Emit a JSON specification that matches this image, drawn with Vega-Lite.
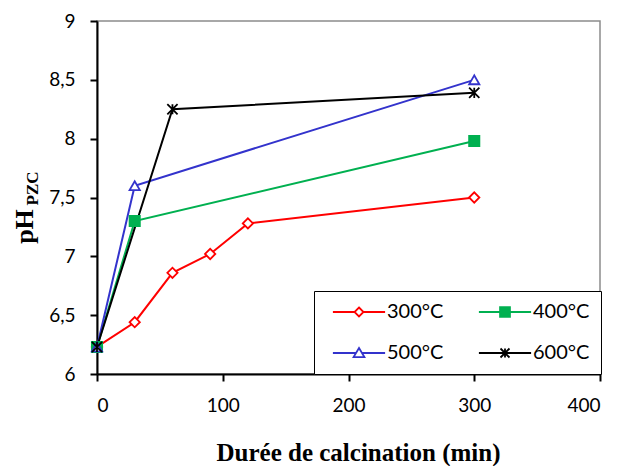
{
  "$schema": "https://vega.github.io/schema/vega-lite/v6.json",
  "width": 503,
  "height": 353,
  "autosize": {"type": "none"},
  "padding": {"left": 97, "top": 21, "right": 21, "bottom": 92},
  "background": "white",
  "config": {
    "view": {"stroke": "#8c8c8c", "strokeWidth": 1.5},
    "axis": {
      "grid": false,
      "domainColor": "black",
      "domainWidth": 2,
      "tickColor": "black",
      "tickWidth": 2,
      "tickSize": 7,
      "labelFont": "Lato",
      "labelFontSize": 19,
      "labelColor": "black",
      "titleFont": "Liberation Serif",
      "titleFontWeight": "bold",
      "titleColor": "black"
    }
  },
  "data": {
    "values": [
      {"t": 0, "ph": 6.23, "serie": "300°C"},
      {"t": 30, "ph": 6.44, "serie": "300°C"},
      {"t": 60, "ph": 6.86, "serie": "300°C"},
      {"t": 90, "ph": 7.02, "serie": "300°C"},
      {"t": 120, "ph": 7.28, "serie": "300°C"},
      {"t": 300, "ph": 7.5, "serie": "300°C"},
      {"t": 0, "ph": 6.23, "serie": "400°C"},
      {"t": 30, "ph": 7.3, "serie": "400°C"},
      {"t": 300, "ph": 7.98, "serie": "400°C"},
      {"t": 0, "ph": 6.23, "serie": "500°C"},
      {"t": 30, "ph": 7.6, "serie": "500°C"},
      {"t": 300, "ph": 8.5, "serie": "500°C"},
      {"t": 0, "ph": 6.23, "serie": "600°C"},
      {"t": 60, "ph": 8.25, "serie": "600°C"},
      {"t": 300, "ph": 8.39, "serie": "600°C"}
    ]
  },
  "layer": [
    {
      "mark": {"type": "line", "strokeWidth": 2},
      "encoding": {
        "x": {
          "field": "t",
          "type": "quantitative",
          "scale": {"domain": [0, 400], "nice": false},
          "axis": {
            "values": [0, 100, 200, 300, 400],
            "labelPadding": 15,
            "title": "Durée de calcination (min)",
            "titleFontSize": 25,
            "titleX": 261,
            "titleY": 86,
            "titleBaseline": "alphabetic",
            "titleAlign": "center"
          }
        },
        "y": {
          "field": "ph",
          "type": "quantitative",
          "scale": {"domain": [6, 9], "nice": false},
          "axis": {
            "values": [6, 6.5, 7, 7.5, 8, 8.5, 9],
            "format": ".1~f",
            "labelExpr": "replace(datum.label, '.', ',')",
            "labelPadding": 15,
            "title": "pH",
            "titleFontSize": 26,
            "titleAngle": 270,
            "titleX": -65,
            "titleY": 205,
            "titleBaseline": "alphabetic",
            "titleAlign": "center"
          }
        },
        "color": {
          "field": "serie",
          "type": "nominal",
          "scale": {
            "domain": ["300°C", "400°C", "500°C", "600°C"],
            "range": ["#ff0000", "#00b050", "#3333cc", "#000000"]
          },
          "legend": null
        }
      }
    },
    {
      "mark": {"type": "point", "filled": false, "opacity": 1, "size": 105, "strokeWidth": 1.8},
      "encoding": {
        "x": {"field": "t", "type": "quantitative"},
        "y": {
          "field": "ph",
          "type": "quantitative",
          "scale": {"domain": [6, 9], "nice": false},
          "axis": null
        },
        "color": {
          "field": "serie",
          "type": "nominal",
          "scale": {
            "domain": ["300°C", "400°C", "500°C", "600°C"],
            "range": ["#ff0000", "#00b050", "#3333cc", "#000000"]
          },
          "legend": null
        },
        "fill": {
          "field": "serie",
          "type": "nominal",
          "scale": {
            "domain": ["300°C", "400°C", "500°C", "600°C"],
            "range": ["white", "#00b050", "white", "transparent"]
          },
          "legend": null
        },
        "shape": {
          "field": "serie",
          "type": "nominal",
          "scale": {
            "domain": ["300°C", "400°C", "500°C", "600°C"],
            "range": ["diamond", "square", "triangle-up", "M-1,-1L1,1M-1,1L1,-1M0,-1V1"]
          },
          "legend": null
        }
      }
    },
    {
      "transform": [{"filter": "datum.t < 0"}],
      "mark": {"type": "point", "filled": false, "opacity": 1, "strokeWidth": 1.8},
      "encoding": {
        "x": {"field": "t", "type": "quantitative"},
        "y": {
          "field": "ph",
          "type": "quantitative",
          "scale": {"domain": [6, 9], "nice": false},
          "axis": {
            "orient": "left",
            "labels": false,
            "ticks": false,
            "domain": false,
            "title": "PZC",
            "titleFontSize": 17,
            "titleAngle": 270,
            "titleX": -60,
            "titleY": 167,
            "titleBaseline": "alphabetic",
            "titleAlign": "center"
          }
        },
        "color": {
          "field": "serie",
          "type": "nominal",
          "scale": {
            "domain": ["300°C", "400°C", "500°C", "600°C"],
            "range": ["#ff0000", "#00b050", "#3333cc", "#000000"]
          },
          "legend": {
            "title": null,
            "orient": "none",
            "legendX": 217,
            "legendY": 270,
            "columns": 2,
            "direction": "horizontal",
            "symbolSize": 81,
            "symbolStrokeWidth": 1.8,
            "symbolOffset": 24,
            "labelOffset": 18,
            "labelFont": "Lato",
            "labelFontSize": 20,
            "labelColor": "black",
            "padding": 11,
            "rowPadding": 21,
            "columnPadding": 27,
            "strokeColor": "black",
            "fillColor": "white",
            "cornerRadius": 0,
            "encode": {"legend": {"update": {"strokeWidth": {"value": 1.5}}}}
          }
        },
        "fill": {
          "field": "serie",
          "type": "nominal",
          "scale": {
            "domain": ["300°C", "400°C", "500°C", "600°C"],
            "range": ["white", "#00b050", "white", "transparent"]
          }
        },
        "shape": {
          "field": "serie",
          "type": "nominal",
          "scale": {
            "domain": ["300°C", "400°C", "500°C", "600°C"],
            "range": [
              "M-5.8,0H-1M1,0H5.8M0,-1L1,0L0,1L-1,0Z",
              "M-5.8,0H5.8M-1.1,-1.1H1.1V1.1H-1.1Z",
              "M-5.8,0H-0.66M0.66,0H5.8M0,-1.1L1.2,0.9L-1.2,0.9Z",
              "M-5.8,0H5.8M-1,-1L1,1M-1,1L1,-1M0,-1V1"
            ]
          }
        }
      }
    }
  ],
  "resolve": {
    "scale": {"y": "independent", "color": "independent", "fill": "independent", "shape": "independent"}
  }
}
